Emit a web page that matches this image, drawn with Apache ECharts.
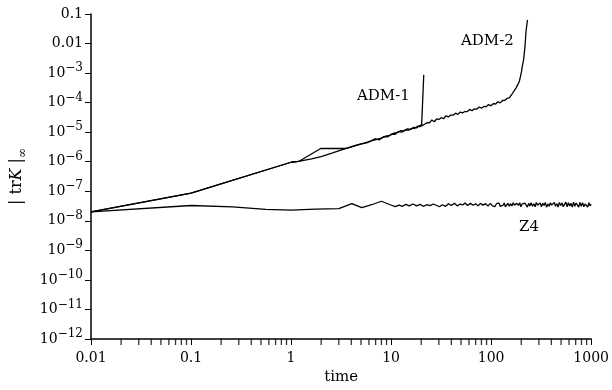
<!DOCTYPE html>
<html><head><meta charset="utf-8">
<script src="https://cdn.jsdelivr.net/npm/echarts@6/dist/echarts.min.js"></script>
<style>html,body{margin:0;padding:0;background:#fff}#c{width:612px;height:390px}</style>
</head><body><div id="c"></div>
<script>
const adm1Time = [0.01,0.1,1,1.19,1.98,3.5,4.3,5.2,6.2,7.2,8.0,8.8,9.7,10.6,11.5,12.4,13.4,14.5,15.6,16.8,18.0,19.2,20.2,21.2];
const adm1Value = [2.0e-8,8.7e-8,9.6e-7,1.02e-6,2.8e-6,2.8e-6,3.5e-6,4.1e-6,5.0e-6,5.7e-6,6.3e-6,7.4e-6,7.8e-6,9.2e-6,9.6e-6,1.12e-5,1.1e-5,1.3e-5,1.25e-5,1.45e-5,1.4e-5,1.65e-5,1.8e-5,8.7e-4];

const adm2Time = [0.01,0.1,1,1.19,1.6,2.0,2.6,3.5,4.2,5.0,5.8,6.9,7.6,8.4,9.2,10.1,11.0,11.8,12.8,13.9,15.0,16.0,17.2,18.4,19.4,20.6,21.8,23.0,24.2,25.5,27.0,28.5,30.0,31.7,33.5,35.4,37.4,39.5,41.7,44.0,46.5,49.1,51.8,54.7,57.8,61.0,64.4,68.0,71.8,75.8,80.0,84.5,89.2,94.2,99.5,105,111,117,123,130,137,145,152,160,166,171,177,184,191,196,201,206,211,215,219,223,226,231];
const adm2Value = [2.0e-8,8.7e-8,9.6e-7,1.02e-6,1.25e-6,1.5e-6,2.0e-6,2.8e-6,3.3e-6,4.0e-6,4.4e-6,6.0e-6,5.5e-6,7.0e-6,6.9e-6,8.6e-6,8.5e-6,1.05e-5,1.0e-5,1.2e-5,1.18e-5,1.32e-5,1.35e-5,1.6e-5,1.55e-5,1.7e-5,1.9e-5,2.1e-5,2.05e-5,2.6e-5,2.25e-5,2.8e-5,2.7e-5,3.1e-5,2.85e-5,3.6e-5,3.3e-5,3.8e-5,3.75e-5,4.4e-5,4.0e-5,4.8e-5,4.5e-5,5.0e-5,5.0e-5,5.9e-5,5.3e-5,6.2e-5,6.0e-5,7.1e-5,6.5e-5,7.4e-5,7.3e-5,8.6e-5,7.8e-5,9.2e-5,9.0e-5,1.07e-4,9.8e-5,1.18e-4,1.2e-4,1.42e-4,1.45e-4,1.85e-4,2.1e-4,2.6e-4,3.1e-4,4.0e-4,5.2e-4,7.5e-4,1.12e-3,1.9e-3,2.8e-3,5.0e-3,1.02e-2,2.5e-2,3.7e-2,6.3e-2];

const z4Time = [0.01,0.1,0.26,0.56,1.0,1.75,3.0,4.05,5.1,6.4,8.0,9.8,
  11,12,13,14,15.2,16.5,18,19.5,21,22.7,24.5,26.5,28.5,30.5,32.5,35,37.5,40,43,46,49,52,55,58,62,66,70,74,78,83,88,93,98,
  100,103,106,109,113,116,120,123,127,131,135,139,143,147,152,156,161,166,171,176,181,187,193,198,204,210,217,223,230,237,
  244,251,259,267,275,283,291,300,309,318,328,338,348,358,369,380,391,403,415,428,440,454,467,481,496,511,526,542,558,575,
  592,610,628,647,666,686,707,728,750,772,796,820,844,870,896,923,950,975,1000];
const z4Value = [2.0e-8,3.3e-8,2.95e-8,2.45e-8,2.3e-8,2.5e-8,2.6e-8,3.8e-8,2.8e-8,3.5e-8,4.6e-8,3.5e-8,
  3.0e-8,3.4e-8,3.1e-8,3.6e-8,3.2e-8,3.7e-8,3.2e-8,3.6e-8,3.1e-8,3.5e-8,3.25e-8,3.7e-8,3.3e-8,3.0e-8,3.5e-8,3.1e-8,3.8e-8,3.3e-8,3.9e-8,3.2e-8,3.7e-8,3.45e-8,4.0e-8,3.3e-8,3.9e-8,3.35e-8,3.8e-8,3.2e-8,3.9e-8,3.4e-8,3.8e-8,3.15e-8,3.9e-8,
  3.9e-8,3.2e-8,3.7e-8,3.0e-8,3.8e-8,3.4e-8,4.0e-8,3.1e-8,3.6e-8,3.3e-8,4.0e-8,3.0e-8,3.5e-8,3.9e-8,3.1e-8,3.8e-8,3.2e-8,4.1e-8,3.4e-8,3.0e-8,3.9e-8,3.3e-8,4.1e-8,3.0e-8,3.7e-8,3.2e-8,4.0e-8,3.5e-8,2.9e-8,3.9e-8,
  3.2e-8,4.1e-8,3.1e-8,3.8e-8,3.0e-8,4.2e-8,3.4e-8,3.1e-8,4.0e-8,3.0e-8,3.9e-8,3.3e-8,4.2e-8,2.9e-8,3.7e-8,3.1e-8,4.1e-8,3.4e-8,3.0e-8,4.2e-8,3.1e-8,3.8e-8,2.9e-8,4.2e-8,3.3e-8,4.0e-8,3.0e-8,3.6e-8,4.3e-8,3.0e-8,
  4.1e-8,3.2e-8,3.9e-8,2.9e-8,4.3e-8,3.1e-8,4.0e-8,3.4e-8,2.9e-8,4.2e-8,3.1e-8,4.1e-8,3.0e-8,3.7e-8,4.3e-8,2.9e-8,4.1e-8,3.2e-8,3.6e-8];

const xMajorTicks = [0.01,0.1,1,10,100,1000];
const xMinorTicks = [0.02,0.03,0.04,0.05,0.06,0.07,0.08,0.09,0.2,0.3,0.4,0.5,0.6,0.7,0.8,0.9,2,3,4,5,6,7,8,9,20,30,40,50,60,70,80,90,200,300,400,500,600,700,800,900];
const yMajorTicks = [1e-12,1e-11,1e-10,1e-9,1e-8,1e-7,1e-6,1e-5,1e-4,1e-3,0.01,0.1];
const seriesLabels = ['ADM-1','ADM-2','Z4'];

const zip = (a,b) => a.map((t,i)=>[t,b[i]]);
const FONT = 'DejaVu Serif';
const chart = echarts.init(document.getElementById('c'));

const lineStyle = {color:'#000', width:1.3};
const xLabel = v=>{const e=Math.round(Math.log10(v)); return e<0? v.toFixed(-e): String(Math.round(v));};
const option = {
  animation:false,
  backgroundColor:'#fff',
  grid:{left:91, right:18, top:14, bottom:50, containLabel:false},
  xAxis:{
    type:'log', logBase:10, min:xMajorTicks[0], max:xMajorTicks[xMajorTicks.length-1], interval:1,
    name:'time', nameLocation:'middle', nameGap:31,
    nameTextStyle:{fontFamily:FONT, fontSize:15, color:'#000'},
    axisLine:{show:true, onZero:false, lineStyle:{color:'#000', width:1.5}},
    axisTick:{show:true, inside:false, length:6, lineStyle:{color:'#000', width:1}},
    splitLine:{show:false},
    axisLabel:{fontFamily:FONT, fontSize:14, color:'#000', margin:12, formatter:xLabel}
  },
  yAxis:{
    type:'log', logBase:10, min:yMajorTicks[0], max:yMajorTicks[yMajorTicks.length-1], interval:1,
    name:'| tr{i|K} |{sub|∞}', nameLocation:'middle', nameGap:58, nameRotate:90,
    nameTextStyle:{fontFamily:FONT, fontSize:16, color:'#000',
      rich:{i:{fontFamily:FONT, fontSize:16, fontStyle:'italic', color:'#000'},
            sub:{fontFamily:FONT, fontSize:12, color:'#000', verticalAlign:'bottom', lineHeight:24}}},
    axisLine:{show:true, onZero:false, lineStyle:{color:'#000', width:1.5}},
    axisTick:{show:true, inside:false, length:6, lineStyle:{color:'#000', width:1}},
    splitLine:{show:false},
    axisLabel:{fontFamily:FONT, fontSize:14, color:'#000', margin:8,
      formatter:v=>{const e=Math.round(Math.log10(v)); if(e>=-2) return e===-1?'0.1':'0.01'; return '10{s|−'+(-e)+'}';},
      rich:{s:{fontFamily:FONT, fontSize:12, color:'#000', verticalAlign:'top', lineHeight:22}}}
  },
  series:[
    {name:seriesLabels[0], type:'line', data:zip(adm1Time, adm1Value), showSymbol:false, symbol:'none', lineStyle, z:3},
    {name:seriesLabels[1], type:'line', data:zip(adm2Time, adm2Value), showSymbol:false, symbol:'none', lineStyle, z:3},
    {name:seriesLabels[2], type:'line', data:zip(z4Time, z4Value), showSymbol:false, symbol:'none', lineStyle:{color:'#000', width:1.3}, z:3},
    {type:'scatter', clip:false, z:10, symbol:'rect', symbolSize:[1.3,6], symbolOffset:[0,3], itemStyle:{color:'#000'},
      data:xMinorTicks.map(v=>[v, yMajorTicks[0]])}
  ],
  graphic:[
    {type:'text', left:357, top:89, style:{text:seriesLabels[0], font:'15px "DejaVu Serif"', fill:'#000'}},
    {type:'text', left:461, top:34, style:{text:seriesLabels[1], font:'15px "DejaVu Serif"', fill:'#000'}},
    {type:'text', left:519, top:220, style:{text:seriesLabels[2], font:'15px "DejaVu Serif"', fill:'#000'}}
  ]
};
chart.setOption(option);
</script></body></html>
